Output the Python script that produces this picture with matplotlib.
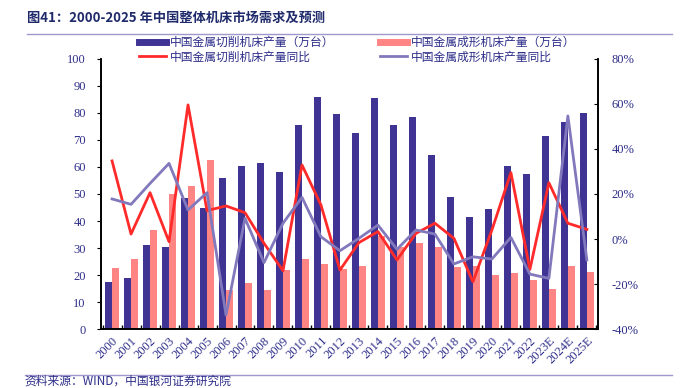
import matplotlib.pyplot as plt
import numpy as np
from matplotlib.lines import Line2D

plt.rcParams['font.family'] = ['Noto Sans CJK SC', 'DejaVu Sans']

years = ['2000', '2001', '2002', '2003', '2004', '2005', '2006', '2007', '2008',
         '2009', '2010', '2011', '2012', '2013', '2014', '2015', '2016', '2017',
         '2018', '2019', '2020', '2021', '2022', '2023E', '2024E', '2025E']

# production, 10k units
cutting = [17.5, 19, 31, 30.5, 48.5, 45, 56, 60.5, 61.5, 58, 75.5, 86, 79.5, 72.5,
           85.5, 75.5, 78.4, 64.4, 48.8, 41.6, 44.6, 60.4, 57.3, 71.5, 76.5, 79.9]
forming = [22.5, 26, 36.5, 50, 53, 62.5, 14.5, 17, 14.5, 22, 26, 24, 22.3, 23.3,
           34.5, 30.3, 32, 30.5, 23, 23.2, 20, 20.9, 18.1, 15, 23.3, 21.1]

# year-over-year growth, %
cutting_yoy = [34.7, 2.2, 20.6, -1.2, 59.6, 12.6, 14.7, 11.7, -1.9, -14.1, 32.9, 15.1,
               -13.8, -1.6, 3.3, -9.3, 2.5, 7.0, 0.3, -19.0, 4.0, 29.5, -13.5, 25.0,
               7.0, 4.3]
forming_yoy = [17.8, 15.4, 24.7, 33.6, 12.9, 20.6, -33.8, 9.2, -10.5, 7.0, 18.5, 1.0,
               -5.2, 0.3, 6.2, -4.6, 4.0, 2.2, -11.1, -7.9, -8.9, 0.7, -15.6, -17.5,
               54.7, -9.3]

navy = '#2E2E8A'
c_blue = '#3F3494'
c_pink = '#FF8484'
c_red = '#FF2A2A'
c_purple = '#8279BD'
serif = 'Liberation Serif'

fig = plt.figure(figsize=(6.92, 3.88), dpi=100)
ax = fig.add_axes([0.146, 0.152, 0.718, 0.696])
ax2 = ax.twinx()

x = np.arange(len(years))
w = 0.36
ax.bar(x - w / 2, cutting, w, color=c_blue, zorder=2)
ax.bar(x + w / 2, forming, w, color=c_pink, zorder=2)
ax2.plot(x, cutting_yoy, color=c_red, lw=2, zorder=3)
ax2.plot(x, forming_yoy, color=c_purple, lw=2, zorder=3)

ax.set_xlim(-0.58, len(years) - 0.42)
ax.set_ylim(0, 100)
ax.set_yticks(range(0, 101, 10))
ax2.set_ylim(-40, 80)
ax2.set_yticks(range(-40, 81, 20))
ax2.set_yticklabels([f'{v}%' for v in range(-40, 81, 20)])

ax.set_xticks(x)
ax.set_xticklabels(years, rotation=45, ha='right', rotation_mode='anchor')
ax.set_xticks(np.arange(-0.5, len(years), 1), minor=True)
ax.tick_params(axis='x', which='major', length=0, pad=4)
ax.tick_params(axis='x', which='minor', length=3, direction='in', width=1)

for a in (ax, ax2):
    a.spines['top'].set_visible(False)
    for s in ('left', 'right', 'bottom'):
        a.spines[s].set_linewidth(1.2)
    for lab in a.get_xticklabels() + a.get_yticklabels():
        lab.set_fontfamily(serif)
        lab.set_fontsize(9)
        lab.set_color(navy)
ax.tick_params(axis='y', length=3, direction='out', pad=8)
ax2.tick_params(axis='y', length=3, direction='in', pad=10)

handles = [Line2D([], [], color=c_blue, lw=5),
           Line2D([], [], color=c_red, lw=2),
           Line2D([], [], color=c_pink, lw=5),
           Line2D([], [], color=c_purple, lw=2)]
labels = ['中国金属切削机床产量（万台）', '中国金属切削机床产量同比',
          '中国金属成形机床产量（万台）', '中国金属成形机床产量同比']
leg = fig.legend(handles, labels, ncol=2, loc='upper left', bbox_to_anchor=(0.194, 0.92),
                 frameon=False, fontsize=8.5, handlelength=2.3, handletextpad=0.35,
                 columnspacing=3.8, labelspacing=0.15, borderaxespad=0)
for t in leg.get_texts():
    t.set_color(navy)

fig.text(0.039, 0.955, '图41：2000-2025 年中国整体机床市场需求及预测', fontsize=9.5,
         fontweight='bold', color='#1F2A6B', va='center')
fig.add_artist(Line2D([0.039, 0.971], [0.912, 0.912], color='#9E98CC', lw=1))
fig.add_artist(Line2D([0.036, 0.971], [0.033, 0.033], color='#9E98CC', lw=1))
fig.text(0.036, 0.002, '资料来源：WIND，中国银河证券研究院', fontsize=8.5, color=navy,
         style='italic', va='bottom')

fig.savefig('out.png', dpi=100)
